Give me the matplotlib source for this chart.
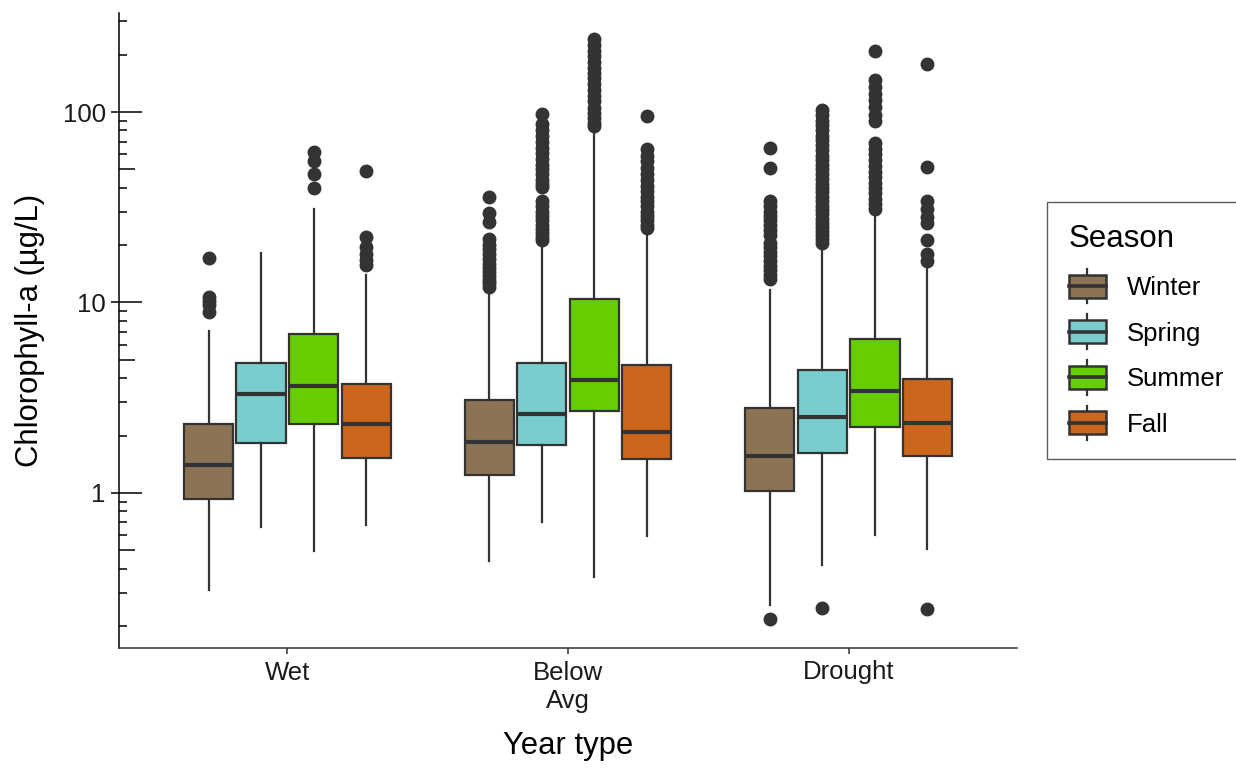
"""Chlorophyll-a by year type and season: log-scale boxplots with log tick annotations."""

import matplotlib

matplotlib.use("Agg")
import matplotlib.pyplot as plt
from matplotlib.legend_handler import HandlerBase
from matplotlib.lines import Line2D
from matplotlib.patches import Patch, Rectangle
from matplotlib.ticker import FixedLocator, NullLocator

plt.rcParams["font.family"] = ["Liberation Sans", "DejaVu Sans"]

year_types = ["Wet", "Below\nAvg", "Drought"]
seasons = ["Winter", "Spring", "Summer", "Fall"]
season_colors = ["#8B7355", "#79CDCD", "#66CD00", "#CD661D"]

# per year type, per season: (whislo, q1, median, q3, whishi)
box_wet = [
    (0.31, 0.935, 1.41, 2.29, 7.1),
    (0.665, 1.82, 3.29, 4.82, 18.1),
    (0.497, 2.29, 3.66, 6.85, 30.9),
    (0.675, 1.53, 2.29, 3.73, 13.9),
]
box_below = [
    (0.437, 1.24, 1.85, 3.07, 11.0),
    (0.70, 1.78, 2.61, 4.82, 20.9),
    (0.36, 2.68, 3.93, 10.4, 80.7),
    (0.594, 1.50, 2.10, 4.67, 24.3),
]
box_drought = [
    (0.258, 1.03, 1.57, 2.78, 11.7),
    (0.42, 1.62, 2.51, 4.44, 19.5),
    (0.60, 2.21, 3.41, 6.45, 29.8),
    (0.51, 1.57, 2.32, 3.97, 15.7),
]

fliers_wet = [
    [17.2, 10.7, 10.2, 9.7, 8.9],
    [],
    [62, 55, 47, 40],
    [49, 22, 19.5, 18, 16.7, 15.8],
]
fliers_below = [
    [36, 29.5, 26.5, 21.5, 20, 19, 18, 17, 16, 15.2, 14.5, 13.8, 13.2, 12.6, 12.1],
    [98, 86, 80, 75, 70, 65, 61, 57, 53, 50, 47, 44, 42, 40.5,
     34, 32, 30, 28.5, 27, 25.5, 24.3, 23.2, 22.2, 21.3],
    [242, 225, 210, 196, 183, 171, 160, 150, 140, 131, 122, 114,
     105, 99, 93, 88, 84],
    [95, 64, 59, 55, 51, 47, 44, 41, 38.5, 36, 34, 32, 30, 28.5, 27, 25.5, 24.5],
]
fliers_drought = [
    [65, 51, 34, 32, 30, 28.5, 27, 25.5, 24, 22.5, 20.5, 19.5, 18.5, 17.5,
     16.5, 15.5, 14.8, 14, 13.3, 0.218],
    [102, 96, 90, 85, 80, 75, 71, 67, 63, 59, 56, 53, 50, 47, 44.5, 42, 40, 38,
     36, 34, 32, 30.5, 29, 27.5, 26, 24.8, 23.6, 22.5, 21.5, 20.6, 0.248],
    [210, 148, 136, 125, 115, 106, 97, 90,
     69, 64, 60, 56, 52, 48.5, 45.5, 42.5, 40, 37.5, 35, 33, 31],
    [178, 51.5, 34.2, 30.9, 28.2, 26.3, 21.4, 17.9, 16.6, 0.246],
]

boxes = [box_wet, box_below, box_drought]
fliers = [fliers_wet, fliers_below, fliers_drought]

dodge = [-0.281, -0.094, 0.094, 0.281]
box_w = 0.175
edge = "#333333"

W, H = 1236, 769
fig = plt.figure(figsize=(W / 100, H / 100), dpi=100)
ax_left, ax_bottom, ax_right, ax_top = 119, 648, 1017, 13
ax = fig.add_axes([ax_left / W, 1 - ax_bottom / H,
                   (ax_right - ax_left) / W, (ax_bottom - ax_top) / H])

for gi, (grp_box, grp_fl) in enumerate(zip(boxes, fliers)):
    for si, (st, fl) in enumerate(zip(grp_box, grp_fl)):
        stats = [{
            "whislo": st[0], "q1": st[1], "med": st[2], "q3": st[3],
            "whishi": st[4], "fliers": fl,
        }]
        ax.bxp(
            stats,
            positions=[gi + 1 + dodge[si]],
            widths=box_w,
            patch_artist=True,
            showcaps=False,
            boxprops=dict(facecolor=season_colors[si], edgecolor=edge, linewidth=1.6),
            medianprops=dict(color=edge, linewidth=3.0, solid_capstyle="butt"),
            whiskerprops=dict(color=edge, linewidth=1.6),
            flierprops=dict(marker="o", markerfacecolor=edge, markeredgecolor=edge,
                            markersize=9.0, linestyle="none"),
            manage_ticks=False,
        )

ax.set_yscale("log")
ax.set_ylim(0.1535, 331)
ax.set_xlim(0.4, 3.6)

ax.set_xticks([1, 2, 3])
ax.set_xticklabels(year_types, fontsize=18.5, color="#1a1a1a", linespacing=1.25)
ax.yaxis.set_major_locator(FixedLocator([1, 10, 100]))
ax.yaxis.set_minor_locator(NullLocator())
ax.set_yticklabels(["1", "10", "100"], fontsize=18.5, color="#1a1a1a")
ax.tick_params(axis="y", which="major", direction="out", length=5.5, width=1.1,
               color="black", pad=4)
ax.tick_params(axis="x", which="major", direction="out", length=4, width=1.1,
               color=edge, pad=5)

# annotation log ticks (inside): long at decades, mid at 5s, short elsewhere
ax_w_px = ax_right - ax_left
for e in range(-1, 3):
    for m in range(1, 10):
        v = m * 10.0 ** e
        if not (0.1535 <= v <= 331):
            continue
        L = 23 if m == 1 else (16 if m == 5 else 8)
        ax.hlines(v, 0, L / ax_w_px, transform=ax.get_yaxis_transform(),
                  color="black", linewidth=1.1, clip_on=False)

for s in ["top", "right"]:
    ax.spines[s].set_visible(False)
ax.spines["left"].set_linewidth(1.1)
ax.spines["bottom"].set_linewidth(1.1)
ax.spines["bottom"].set_color(edge)

ax.set_ylabel("Chlorophyll-a (µg/L)", fontsize=22.3, labelpad=13)
ax.set_xlabel("Year type", fontsize=22.3, labelpad=13)


class BoxKeyHandler(HandlerBase):
    def create_artists(self, legend, orig_handle, xdescent, ydescent, width,
                       height, fontsize, trans):
        cx = width / 2 - xdescent
        cy = height / 2 - ydescent
        bh = height * 1.0
        wh = height * 1.5
        fc = orig_handle.get_facecolor()
        whisk = Line2D([cx, cx], [cy - wh / 2, cy + wh / 2], color=edge,
                       linewidth=1.6, transform=trans)
        rect = Rectangle((-xdescent, cy - bh / 2), width, bh, facecolor=fc,
                         edgecolor=edge, linewidth=1.8, transform=trans)
        med = Line2D([-xdescent, width - xdescent], [cy, cy], color=edge,
                     linewidth=2.6, transform=trans)
        return [whisk, rect, med]


handles = [Patch(facecolor=c) for c in season_colors]
leg = fig.legend(
    handles, seasons,
    handler_map={Patch: BoxKeyHandler()},
    loc="center left",
    bbox_to_anchor=(1047 / W, 1 - 330.5 / H),
    fontsize=18.5,
    title="Season",
    title_fontsize=22.5,
    frameon=True,
    fancybox=False,
    handlelength=1.45,
    handleheight=1.0,
    handletextpad=0.82,
    labelspacing=0.79,
    borderpad=0.85,
    borderaxespad=0,
)
leg._legend_box.align = "left"
leg.get_frame().set_edgecolor("#333333")
leg.get_frame().set_linewidth(1.0)

fig.savefig("out.png", dpi=100)
